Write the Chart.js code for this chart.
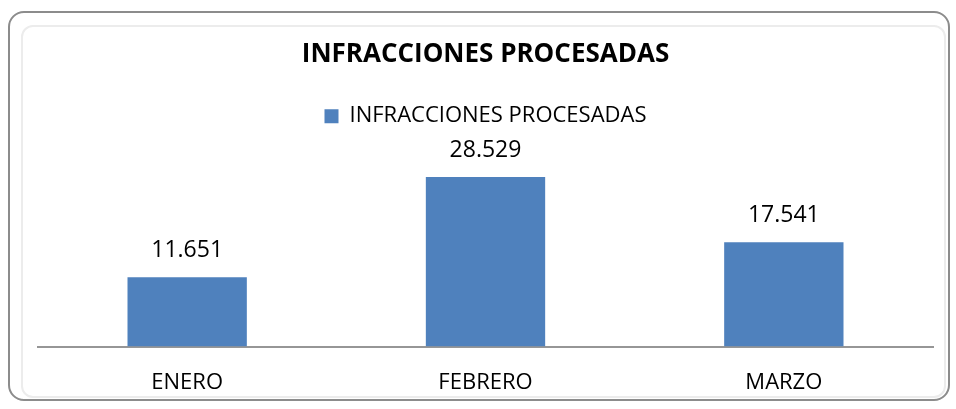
<!DOCTYPE html>
<html lang="es">
<head>
<meta charset="utf-8">
<title>Infracciones procesadas</title>
<script src="https://cdn.jsdelivr.net/npm/chart.js@4/dist/chart.umd.min.js"></script>
<style>
  html, body { margin: 0; padding: 0; background: #fff; }
  #contenedor { position: relative; width: 956px; height: 409px; overflow: hidden; }
  #marco { position: absolute; left: 8px; top: 11px; width: 938px; height: 386px; border: 2px solid #8c8c8c; border-radius: 16px; }
  #marco-interior { position: absolute; left: 21px; top: 25px; width: 921px; height: 369px; border: 2px solid #ececec; border-radius: 12px; }
  canvas { position: absolute; left: 0; top: 0; }
</style>
</head>
<body>
<div id="contenedor">
  <div id="marco"></div>
  <div id="marco-interior"></div>
  <canvas id="grafico" width="956" height="409"></canvas>
</div>
<script>
// Datos del gráfico
const meses = ["ENERO", "FEBRERO", "MARZO"];
const infracciones = [11651, 28529, 17541];
const titulo = "INFRACCIONES PROCESADAS";
const nombreSerie = "INFRACCIONES PROCESADAS";

const fuente = "'Open Sans', 'DejaVu Sans', sans-serif";
const azul = "#4F81BD";

// Formato con punto de miles (11.651)
function formatoMiles(n) {
    return String(n).replace(/\B(?=(\d{3})+(?!\d))/g, ".");
}

// Plugin para escribir el valor encima de cada barra
const etiquetasValor = {
    id: "etiquetasValor",
    afterDatasetsDraw(chart) {
        const ctx = chart.ctx;
        const meta = chart.getDatasetMeta(0);
        ctx.save();
        ctx.font = "23px " + fuente;
        ctx.fillStyle = "#000";
        ctx.textAlign = "center";
        ctx.textBaseline = "alphabetic";
        meta.data.forEach((barra, i) => {
            ctx.fillText(formatoMiles(chart.data.datasets[0].data[i]), barra.x, barra.y - 20);
        });
        ctx.restore();
    }
};

new Chart(document.getElementById("grafico"), {
    type: "bar",
    data: {
        labels: meses,
        datasets: [{
            label: nombreSerie,
            data: infracciones,
            backgroundColor: azul,
            borderWidth: 0,
            barPercentage: 0.4,
            categoryPercentage: 1
        }]
    },
    options: {
        responsive: false,
        animation: false,
        layout: { padding: { left: 38, right: 23, top: 0, bottom: -10 } },
        plugins: {
            title: {
                display: true,
                text: titulo,
                color: "#000",
                font: { family: fuente, size: 26, weight: "bold" },
                padding: { top: 39, bottom: 25 }
            },
            // espaciador debajo de la leyenda
            subtitle: {
                display: true,
                text: " ",
                weight: 500,
                font: { size: 1, lineHeight: 1 },
                padding: { top: 0, bottom: 30 }
            },
            legend: {
                display: true,
                labels: {
                    color: "#000",
                    font: { family: fuente, size: 22 },
                    boxWidth: 14,
                    boxHeight: 14,
                    padding: 10
                }
            },
            tooltip: { enabled: false }
        },
        scales: {
            x: {
                grid: { display: false, drawTicks: false },
                border: { display: true, color: "#969696", width: 2 },
                ticks: { color: "#000", font: { family: fuente, size: 22 }, padding: 23 }
            },
            y: {
                display: false,
                min: 0,
                max: 30000
            }
        }
    },
    plugins: [etiquetasValor]
});
</script>
</body>
</html>
